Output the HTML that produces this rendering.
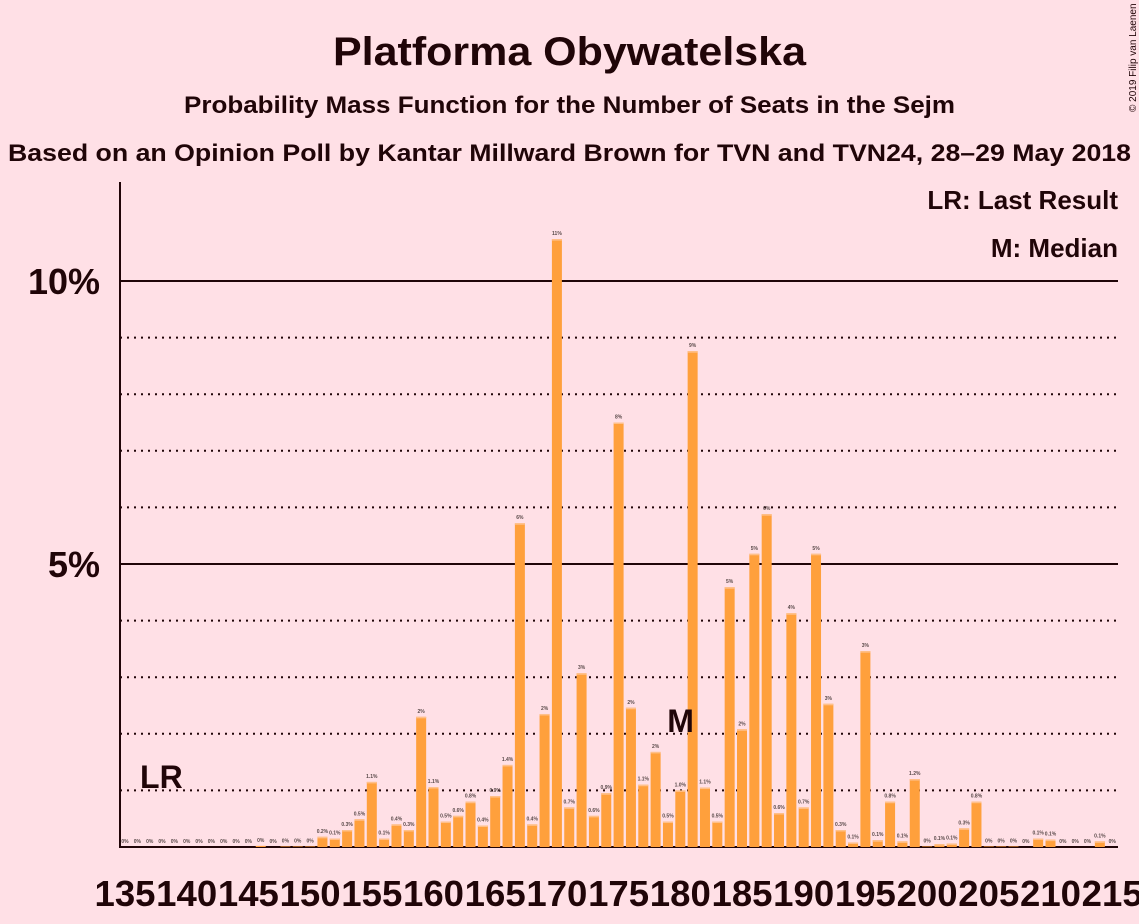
<!DOCTYPE html>
<html><head><meta charset="utf-8"><style>
html,body{margin:0;padding:0;background:#FFE0E6;}
svg{display:block;font-family:"Liberation Sans",sans-serif;}
</style></head><body>
<svg id="chart" width="1139" height="924" viewBox="0 0 1139 924" xmlns="http://www.w3.org/2000/svg">
<rect width="1139" height="924" fill="#FFE0E6"/>
<text x="569.5" y="65" text-anchor="middle" font-size="40" font-weight="bold" fill="#200508" textLength="473" lengthAdjust="spacingAndGlyphs">Platforma Obywatelska</text>
<text x="569.5" y="113" text-anchor="middle" font-size="24" font-weight="bold" fill="#200508" textLength="771" lengthAdjust="spacingAndGlyphs">Probability Mass Function for the Number of Seats in the Sejm</text>
<text x="569.5" y="161" text-anchor="middle" font-size="24" font-weight="bold" fill="#200508" textLength="1123" lengthAdjust="spacingAndGlyphs">Based on an Opinion Poll by Kantar Millward Brown for TVN and TVN24, 28–29 May 2018</text>
<text x="1118" y="209" text-anchor="end" font-size="26" font-weight="bold" fill="#200508">LR: Last Result</text>
<text x="1118" y="257" text-anchor="end" font-size="26" font-weight="bold" fill="#200508">M: Median</text>
<text transform="translate(1136,112) rotate(-90)" font-size="10" fill="#200508">© 2019 Filip van Laenen</text>
<g id="grid"></g>
<g id="bars"></g>
<g id="xlabels"></g>
</svg>
<script>
const seats = [];
for (let s = 135; s <= 215; s++) seats.push(s);
const probs = [0,0,0,0,0,0,0,0,0,0,0,0.02,0,0.01,0.01,0.01,
0.18,0.15,0.3,0.49,1.15,0.15,0.4,0.3,2.3,1.06,0.45,0.55,0.8,0.38,0.9,1.45,
5.72,0.4,2.35,10.74,0.7,3.07,0.55,0.95,7.5,2.46,1.1,1.68,0.45,1.0,8.76,1.05,
0.45,4.59,2.08,5.18,5.88,0.6,4.13,0.7,5.18,2.53,0.3,0.08,3.46,0.12,0.8,0.1,
1.2,0.01,0.05,0.06,0.33,0.8,0.01,0.01,0.01,0,0.15,0.13,0,0,0,0.1,0];
const yTicks = [5,10];
const yTickLabels = ["5%","10%"];
const dottedTicks = [1,2,3,4,6,7,8,9];
const xTickSeats = [135,140,145,150,155,160,165,170,175,180,185,190,195,200,205,210,215];
const lastResult = 138;
const median = 181;

const NS = "http://www.w3.org/2000/svg";
const x0 = 125, step = 12.34, yBase = 847, pxPer = 56.6, left = 120, right = 1118;
const xs = s => x0 + (s - 135) * step;
const ys = v => yBase - v * pxPer;
function mk(tag, attrs, parent){const e=document.createElementNS(NS,tag);for(const k in attrs)e.setAttribute(k,attrs[k]);parent.appendChild(e);return e;}
const grid = document.getElementById('grid'), bars = document.getElementById('bars'), xl = document.getElementById('xlabels');

dottedTicks.forEach(t=>{
  const l = mk('line',{x1:left,x2:right,y1:ys(t),y2:ys(t),stroke:'#200508','stroke-width':2,'stroke-dasharray':'2,5'},grid);
  
  
});
yTicks.forEach((t,i)=>{
  const l = mk('line',{x1:left,x2:right,y1:ys(t),y2:ys(t),stroke:'#200508','stroke-width':2},grid);
  
  
  const tx = mk('text',{x:100,y:ys(t)+13,'text-anchor':'end','font-size':36,'font-weight':'bold',fill:'#200508'},grid);
  tx.textContent = yTickLabels[i];
  
  
});

function lab(v){ if (v < 0.05) return '0%'; if (v < 1.5) return v.toFixed(1)+'%'; return Math.round(v)+'%'; }
seats.forEach((s,i)=>{
  const v = probs[i];
  const h = v * pxPer;
  const r = mk('rect',{x:xs(s)-5,y:yBase-h,width:10,height:h,fill:'#FFA03C'},bars);
  
  
  if (h > 2) {
    const hl = mk('rect',{x:xs(s)-5,y:yBase-h,width:10,height:1.5,fill:'#FFC08A'},bars);
    
    
  }
  const t = mk('text',{x:xs(s),y:yBase-h-4,'text-anchor':'middle','font-size':5,'font-weight':'bold',fill:'#5a4a4a'},bars);
  t.textContent = lab(v);
  
  
});

mk('line',{x1:left,x2:left,y1:182,y2:yBase+1,stroke:'#200508','stroke-width':2},grid);
mk('line',{x1:left-1,x2:right,y1:yBase,y2:yBase,stroke:'#200508','stroke-width':2},grid);

xTickSeats.forEach(s=>{
  const t = mk('text',{x:xs(s),y:906,'text-anchor':'middle','font-size':36,'font-weight':'bold',fill:'#200508',textLength:61,lengthAdjust:'spacingAndGlyphs'},xl);
  t.textContent = s;
  
  
});

const lr = mk('text',{x:xs(lastResult)-22,y:788,'font-size':32,'font-weight':'bold',fill:'#200508'},xl);
lr.textContent = 'LR';


const m = mk('text',{x:xs(median)-12,y:732,'text-anchor':'middle','font-size':32,'font-weight':'bold',fill:'#200508'},xl);
m.textContent = 'M';


</script>
</body></html>
